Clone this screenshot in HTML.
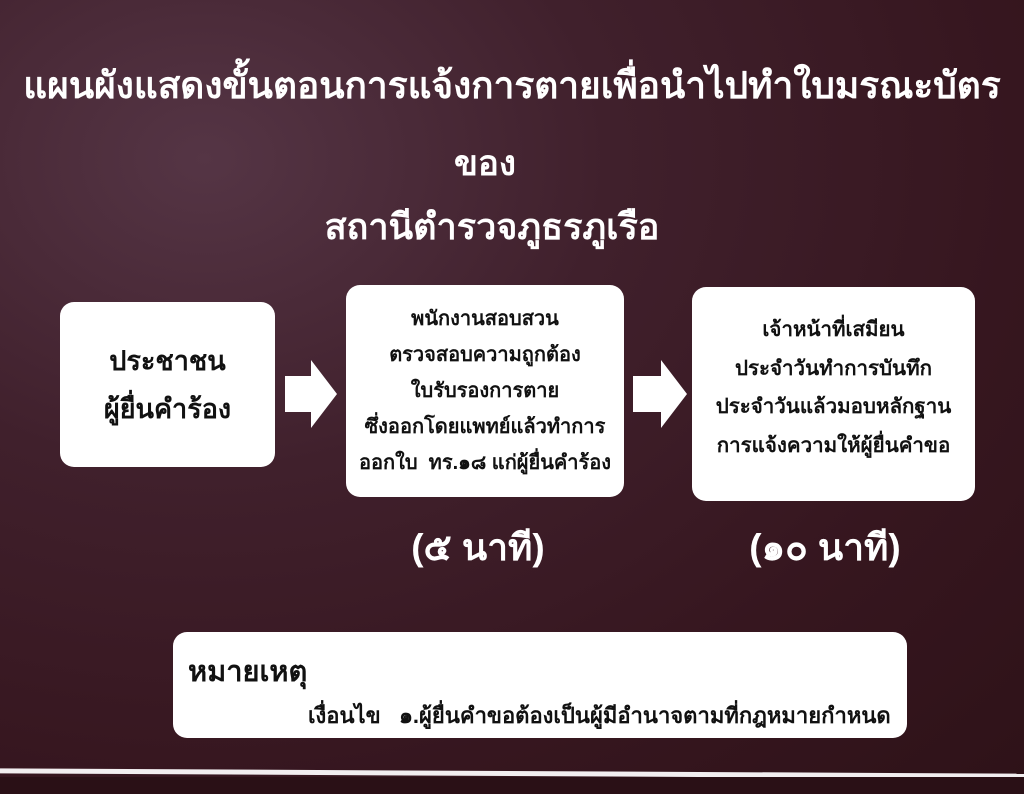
<!DOCTYPE html>
<html><head><meta charset="utf-8"><style>
html,body{margin:0;padding:0}
body{width:1024px;height:794px;position:relative;overflow:hidden;
background:radial-gradient(ellipse at 20% 20%,#553545 0%,#40202c 35%,#36161f 70%,#2e1218 100%);
font-family:"Liberation Sans","Noto Sans CJK SC",sans-serif;font-weight:bold;color:#fff}
.t{position:absolute;white-space:nowrap;text-align:center}
.box{position:absolute;background:#fff;border-radius:14px;color:#111;display:flex;flex-direction:column;justify-content:center;align-items:center;text-align:center;white-space:nowrap}
.arrow{position:absolute}
</style></head><body>
<div class="t" style="left:0;width:1024px;top:56px;font-size:37px;">แผนผังแสดงขั้นตอนการแจ้งการตายเพื่อนำไปทำใบมรณะบัตร</div>
<div class="t" style="left:425px;width:120px;top:136px;font-size:35px;">ของ</div>
<div class="t" style="left:282px;width:420px;top:198px;font-size:36px;">สถานีตำรวจภูธรภูเรือ</div>

<div class="box" style="left:60px;top:302px;width:215px;height:165px;font-size:27px;line-height:48px;">ประชาชน<br>ผู้ยื่นคำร้อง</div>
<svg class="arrow" style="left:285px;top:360px" width="52" height="68"><polygon points="0,16 26,16 26,0 52,34 26,68 26,52 0,52" fill="#fff"/></svg>
<div class="box" style="left:346px;top:285px;width:278px;height:212px;font-size:20px;line-height:36px;">พนักงานสอบสวน<br>ตรวจสอบความถูกต้อง<br>ใบรับรองการตาย<br>ซึ่งออกโดยแพทย์แล้วทำการ<br>ออกใบ&nbsp; ทร.๑๘ แก่ผู้ยื่นคำร้อง</div>
<svg class="arrow" style="left:633px;top:360px" width="54" height="68"><polygon points="0,16 28,16 28,0 54,34 28,68 28,52 0,52" fill="#fff"/></svg>
<div class="box" style="left:692px;top:287px;width:283px;height:214px;font-size:20.5px;line-height:38.5px;justify-content:flex-start;padding-top:24px;box-sizing:border-box;">เจ้าหน้าที่เสมียน<br>ประจำวันทำการบันทึก<br>ประจำวันแล้วมอบหลักฐาน<br>การแจ้งความให้ผู้ยื่นคำขอ</div>

<div class="t" style="left:378px;width:200px;top:518px;font-size:37px;">(๕ นาที)</div>
<div class="t" style="left:720px;width:210px;top:518px;font-size:37px;">(๑๐ นาที)</div>

<div class="box" style="left:173px;top:632px;width:734px;height:106px;display:block;text-align:left;">
<div style="position:absolute;left:15px;top:16px;font-size:29px;">หมายเหตุ</div>
<div style="position:absolute;left:135px;top:66px;font-size:22px;">เงื่อนไข&nbsp;&nbsp; ๑.ผู้ยื่นคำขอต้องเป็นผู้มีอำนาจตามที่กฎหมายกำหนด</div>
</div>

<div style="position:absolute;left:0;top:771px;width:1024px;height:5px;background:#f2eef0;transform:rotate(0.3deg)"></div>
<div style="position:absolute;left:0;top:777px;width:1024px;height:17px;background:#2a1016"></div>
</body></html>
